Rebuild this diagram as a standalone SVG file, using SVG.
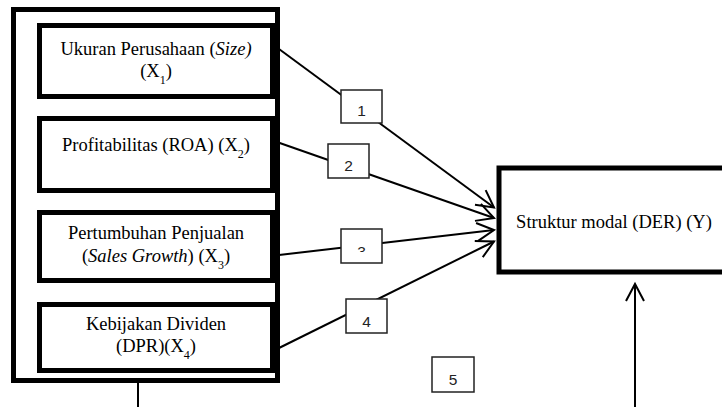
<svg xmlns="http://www.w3.org/2000/svg" width="722" height="407" viewBox="0 0 722 407">
  <style>
    .box { fill: #fff; stroke: #000; stroke-width: 5; }
    .lbl { fill: #fff; stroke: #222; stroke-width: 1.5; }
    .t { font-family: "Liberation Serif", "Times New Roman", serif; font-size: 18.5px; fill: #000; text-anchor: middle; }
    .sub { font-size: 12px; }
    .n { font-family: "Liberation Sans", Arial, sans-serif; font-size: 15.5px; fill: #222; text-anchor: middle; }
    .c { stroke: #000; stroke-width: 2; fill: none; }
  </style>
  <defs>
    <marker id="arr" markerUnits="userSpaceOnUse" markerWidth="24" markerHeight="24" viewBox="-20 -12 24 24" refX="0" refY="0" orient="auto">
      <path d="M-17,-9 L0,0 L-17,9" fill="none" stroke="#000" stroke-width="2"/>
    </marker>
    <clipPath id="clip3">
      <rect x="341" y="229" width="41" height="23"/>
    </clipPath>
  </defs>

  <g id="outer-group">
    <rect x="13.5" y="9.5" width="264" height="371" fill="#fff" stroke="#000" stroke-width="5"/>
  </g>

  <g id="x1">
    <rect class="box" x="39.5" y="25.5" width="233" height="71"/>
    <text class="t" x="156" y="55">Ukuran Perusahaan (<tspan font-style="italic">Size)</tspan></text>
    <text class="t" x="156" y="77">(X<tspan class="sub" dy="7">1</tspan><tspan dy="-7">)</tspan></text>
  </g>

  <g id="x2">
    <rect class="box" x="39.5" y="118.5" width="233" height="72"/>
    <text class="t" x="156" y="151">Profitabilitas (ROA) (X<tspan class="sub" dy="7">2</tspan><tspan dy="-7">)</tspan></text>
  </g>

  <g id="x3">
    <rect class="box" x="39.5" y="212.5" width="233" height="68"/>
    <text class="t" x="156" y="239">Pertumbuhan Penjualan</text>
    <text class="t" x="156" y="262">(<tspan font-style="italic">Sales Growth</tspan>) (X<tspan class="sub" dy="7">3</tspan><tspan dy="-7">)</tspan></text>
  </g>

  <g id="x4">
    <rect class="box" x="39.5" y="304.5" width="233" height="66"/>
    <text class="t" x="156" y="330">Kebijakan Dividen</text>
    <text class="t" x="156" y="352">(DPR)(X<tspan class="sub" dy="7">4</tspan><tspan dy="-7">)</tspan></text>
  </g>

  <g id="y">
    <rect class="box" x="499" y="168" width="260" height="104"/>
    <text class="t" x="614" y="228">Struktur modal (DER) (Y)</text>
  </g>

  <g id="connectors">
    <line class="c" x1="279" y1="49" x2="494" y2="207.5" marker-end="url(#arr)"/>
    <line class="c" x1="279" y1="142.7" x2="494" y2="218" marker-end="url(#arr)"/>
    <line class="c" x1="279" y1="255" x2="494" y2="230" marker-end="url(#arr)"/>
    <line class="c" x1="279" y1="348" x2="494" y2="241.5" marker-end="url(#arr)"/>
    <line class="c" x1="635" y1="407" x2="635" y2="284" marker-end="url(#arr)"/>
    <line class="c" x1="138" y1="383" x2="138" y2="407"/>
  </g>

  <g id="label1">
    <rect class="lbl" x="341" y="90" width="41" height="33"/>
    <text class="n" x="361.5" y="116">1</text>
  </g>
  <g id="label2">
    <rect class="lbl" x="328" y="144" width="41" height="34"/>
    <text class="n" x="348.5" y="171">2</text>
  </g>
  <g id="label3">
    <rect class="lbl" x="341" y="229" width="41" height="34"/>
    <text class="n" x="361.5" y="256.5" clip-path="url(#clip3)">3</text>
  </g>
  <g id="label4">
    <rect class="lbl" x="346" y="299" width="41" height="34"/>
    <text class="n" x="366.5" y="327">4</text>
  </g>
  <g id="label5">
    <rect class="lbl" x="432" y="357" width="42" height="35"/>
    <text class="n" x="453" y="385">5</text>
  </g>
</svg>
